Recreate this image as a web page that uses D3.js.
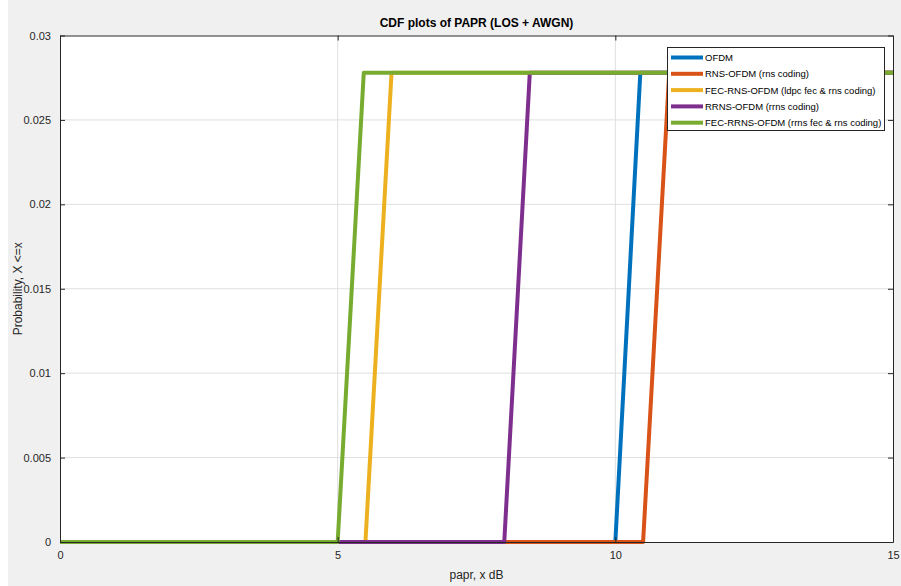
<!DOCTYPE html>
<html><head><meta charset="utf-8">
<script src="https://cdn.jsdelivr.net/npm/d3@7"></script>
<style>body{margin:0;background:#fff}svg{display:block}text{font-family:"Liberation Sans",Arial,sans-serif}</style>
</head><body><svg id="c" width="901" height="586"></svg>
<script>
const seriesNames = ["OFDM","RNS-OFDM (rns coding)","FEC-RNS-OFDM (ldpc fec & rns coding)","RRNS-OFDM (rrns coding)","FEC-RRNS-OFDM (rrns fec & rns coding)"];
const seriesColors = ["#0072BD","#D95319","#EDB120","#7E2F8E","#77AC30"];
// each series: x points and probability values
const xOFDM = [0, 10, 10.45, 15];      const yOFDM = [0, 0, 0.0278, 0.0278];
const xRNS = [0, 10.5, 10.97, 15];     const yRNS = [0, 0, 0.0278, 0.0278];
const xFECRNS = [0, 5.5, 5.97, 15];    const yFECRNS = [0, 0, 0.0278, 0.0278];
const xRRNS = [0, 8, 8.46, 15];        const yRRNS = [0, 0, 0.0278, 0.0278];
const xFECRRNS = [0, 5, 5.47, 15];     const yFECRRNS = [0, 0, 0.0278, 0.0278];
const xTicks = [0, 5, 10, 15];
const yTicks = [0, 0.005, 0.01, 0.015, 0.02, 0.025, 0.03];
const yTickLabels = ["0","0.005","0.01","0.015","0.02","0.025","0.03"];

const seriesX = [xOFDM, xRNS, xFECRNS, xRRNS, xFECRRNS];
const seriesY = [yOFDM, yRNS, yFECRNS, yRRNS, yFECRRNS];

const svg = d3.select("#c");
const L = 60, R = 893, T = 35.5, B = 542;
svg.append("rect").attr("x",0).attr("y",0).attr("width",901).attr("height",586).attr("fill","#f0f0f0");
svg.append("rect").attr("x",0).attr("y",0).attr("width",8).attr("height",586).attr("fill","#fff");
svg.append("rect").attr("x",L).attr("y",T).attr("width",R-L).attr("height",B-T).attr("fill","#fff");

const x = d3.scaleLinear().domain([0,15]).range([L,R]);
const y = d3.scaleLinear().domain([0,0.03]).range([B,T]);

// grid
const g = svg.append("g");
g.selectAll(".gx").data(xTicks.slice(1,-1)).enter().append("line")
 .attr("x1",d=>x(d)).attr("x2",d=>x(d)).attr("y1",T).attr("y2",B)
 .attr("stroke","#dfdfdf").attr("stroke-width",1);
g.selectAll(".gy").data(yTicks.slice(1,-1)).enter().append("line")
 .attr("y1",d=>y(d)).attr("y2",d=>y(d)).attr("x1",L).attr("x2",R)
 .attr("stroke","#dfdfdf").attr("stroke-width",1);

// lines
const line = d3.line().x(d=>x(d[0])).y(d=>y(d[1]));
seriesX.forEach((xs,i)=>{
  const pts = xs.map((v,j)=>[v, seriesY[i][j]]);
  svg.append("path").attr("d",line(pts)).attr("fill","none")
   .attr("stroke",seriesColors[i]).attr("stroke-width",4).attr("stroke-linejoin","round");
});

// axes (box with inward ticks)
const axCol = "#262626";
const axB = d3.axisBottom(x).tickValues(xTicks).tickSizeInner(-5).tickSizeOuter(0).tickPadding(9).tickFormat(d3.format("d"));
const axT = d3.axisTop(x).tickValues(xTicks).tickSizeInner(-5).tickSizeOuter(0).tickFormat("");
const axLf = d3.axisLeft(y).tickValues(yTicks).tickSizeInner(-5).tickSizeOuter(0).tickPadding(9).tickFormat((d,i)=>yTickLabels[i]);
const axRt = d3.axisRight(y).tickValues(yTicks).tickSizeInner(-5).tickSizeOuter(0).tickFormat("");
[[axB,`translate(0,${B})`],[axT,`translate(0,${T})`],[axLf,`translate(${L},0)`],[axRt,`translate(${R},0)`]].forEach(([a,t])=>{
  const gg = svg.append("g").attr("transform",t).call(a);
  gg.selectAll("path").attr("stroke",axCol).attr("stroke-width",1);
  gg.selectAll("line").attr("stroke",axCol);
  gg.selectAll("text").attr("fill",axCol).style("font-size","11px").style("font-family","'Liberation Sans',Arial,sans-serif");
});

// title & labels
svg.append("text").attr("x",(L+R)/2).attr("y",27).attr("text-anchor","middle")
 .style("font-size","12px").style("font-weight","bold").attr("fill","#000").text("CDF plots of PAPR (LOS + AWGN)");
svg.append("text").attr("x",(L+R)/2).attr("y",579).attr("text-anchor","middle")
 .style("font-size","12px").attr("fill",axCol).text("papr, x dB");
svg.append("text").attr("transform",`translate(22,${(T+B)/2}) rotate(-90)`).attr("text-anchor","middle")
 .style("font-size","12px").attr("fill",axCol).text("Probability, X <=x");

// legend
const lg = svg.append("g");
lg.append("rect").attr("x",667.5).attr("y",47.5).attr("width",217).attr("height",83)
 .attr("fill","#fff").attr("stroke",axCol).attr("stroke-width",1);
seriesNames.forEach((n,i)=>{
  const yy = 57.5 + i*16.3;
  lg.append("line").attr("x1",671).attr("x2",703).attr("y1",yy).attr("y2",yy)
   .attr("stroke",seriesColors[i]).attr("stroke-width",4);
  lg.append("text").attr("x",705).attr("y",yy+3.5).style("font-size","9.5px").attr("fill","#000").text(n);
});
</script></body></html>
